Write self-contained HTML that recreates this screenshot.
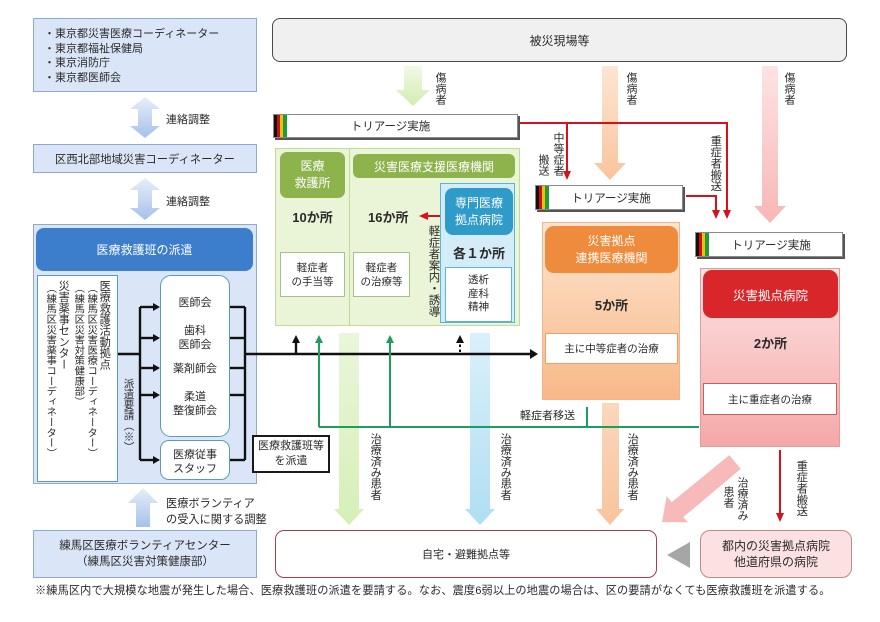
<!DOCTYPE html>
<html><head><meta charset="utf-8">
<style>
*{margin:0;padding:0;box-sizing:border-box}
html,body{width:880px;height:622px}
body{background:#fff;position:relative;overflow:hidden;font-family:"Liberation Sans","Noto Sans CJK JP",sans-serif;color:#2a2a2a}
.a{position:absolute}
.t{position:absolute;white-space:nowrap;font-size:11px;line-height:1}
.v{writing-mode:vertical-rl}
.c{display:flex;align-items:center;justify-content:center;text-align:center;flex-direction:column}
.b{font-weight:bold}
.w{color:#fff}
.tri{position:absolute;background:#fff;border:1px solid #8a8a8a;box-shadow:2px 2px 0 #555;font-size:11.5px}
.tri .s{position:absolute;left:0;top:0;bottom:0;width:13px;background:linear-gradient(to right,#111 0 3px,#c8101a 3px 6px,#f2c200 6px 9px,#1f9a3c 9px 13px)}
</style></head><body>

<!-- Left column boxes -->
<div class="a" style="left:33px;top:18px;width:224px;height:74px;background:#dae6f7;border:1px solid #8ea9d5;font-size:11px;line-height:14.7px;padding:8px 0 0 10px;white-space:nowrap">・東京都災害医療コーディネーター<br>・東京都福祉保健局<br>・東京消防庁<br>・東京都医師会</div>

<div class="a c" style="left:33px;top:144px;width:224px;height:29px;background:#dae6f7;border:1px solid #8ea9d5;font-size:11.3px">区西北部地域災害コーディネーター</div>

<div class="a" style="left:33px;top:224px;width:224px;height:260px;background:#dae6f7;border:1px solid #8ea9d5"></div>
<div class="a c w" style="left:36px;top:228px;width:217px;height:43px;background:#3c7ecb;border-radius:8px;font-size:12px">医療救護班の派遣</div>
<div class="a" style="left:37px;top:275px;width:81px;height:207px;background:#fff;border:1.5px solid #5c9db6"></div>
<div class="a" style="left:160px;top:275px;width:70px;height:162px;background:#fff;border:1.5px solid #5c9db6;border-radius:11px"></div>
<div class="a" style="left:160px;top:440px;width:70px;height:40px;background:#fff;border:1.5px solid #5c9db6;border-radius:9px"></div>

<div class="a c" style="left:252px;top:435px;width:78px;height:38px;background:#fff;border:2px solid #1a1a1a;font-size:11px;line-height:15px">医療救護班等<br>を派遣</div>

<div class="a c" style="left:33px;top:530px;width:224px;height:48px;background:#dae6f7;border:1px solid #8ea9d5;font-size:11.5px;line-height:16px">練馬区医療ボランティアセンター<br>（練馬区災害対策健康部）</div>

<!-- Top box -->
<div class="a c" style="left:272px;top:18px;width:575px;height:44px;background:#f0f0f0;border:1.5px solid #4a4a4a;border-radius:8px;font-size:12px">被災現場等</div>

<!-- Triage boxes -->
<div class="tri c" style="left:273px;top:114px;width:245px;height:24px"><div class="s"></div><span style="margin-right:10px">トリアージ実施</span></div>
<div class="tri c" style="left:535px;top:185px;width:148px;height:25px"><div class="s"></div><span style="margin-left:4px">トリアージ実施</span></div>
<div class="tri c" style="left:695px;top:232px;width:148px;height:25px"><div class="s"></div><span style="margin-left:4px">トリアージ実施</span></div>

<!-- Green big box -->
<div class="a" style="left:275px;top:148px;width:245px;height:178px;background:#eaf4d6;border:1px solid #c2dc98"></div>
<div class="a" style="left:349px;top:148px;width:1px;height:178px;background:#c2dc98"></div>
<div class="a c w" style="left:280px;top:152px;width:65px;height:46px;background:#8db34d;border-radius:7px;font-size:12px;line-height:17px">医療<br>救護所</div>
<div class="a c w" style="left:353px;top:154px;width:162px;height:24px;background:#8db34d;border-radius:6px;font-size:12px">災害医療支援医療機関</div>
<div class="t b" style="left:280px;width:65px;text-align:center;top:211px;font-size:13px">10か所</div>
<div class="t b" style="left:368px;top:211px;font-size:13px">16か所</div>
<div class="a c" style="left:280px;top:252px;width:65px;height:45px;background:#fff;border:1px solid #a7bf8b;font-size:10.5px;line-height:14px">軽症者<br>の手当等</div>
<div class="a c" style="left:353px;top:252px;width:57px;height:45px;background:#fff;border:1px solid #a7bf8b;font-size:10.5px;line-height:14px">軽症者<br>の治療等</div>
<div class="a" style="left:440px;top:183px;width:75px;height:140px;background:#d3ecf8;border:1px solid #5db4da"></div>
<div class="a c w" style="left:445px;top:188px;width:68px;height:47px;background:#2f9bc9;border-radius:8px;font-size:12px;line-height:17px">専門医療<br>拠点病院</div>
<div class="t b" style="left:445px;width:68px;text-align:center;top:247px;font-size:13px">各１か所</div>
<div class="a c" style="left:445px;top:267px;width:67px;height:55px;background:#fff;border:1px solid #5db4da;font-size:10.5px;line-height:13.5px">透析<br>産科<br>精神</div>

<!-- Orange box -->
<div class="a" style="left:542px;top:222px;width:138px;height:178px;background:linear-gradient(#fde5d0,#f8b888);border:1px solid #f2b48a"></div>
<div class="a c w" style="left:545px;top:226px;width:133px;height:47px;background:#ef8b3d;border-radius:9px;font-size:12px;line-height:17px">災害拠点<br>連携医療機関</div>
<div class="t b" style="left:545px;width:133px;text-align:center;top:299px;font-size:13px">5か所</div>
<div class="a c" style="left:545px;top:333px;width:133px;height:31px;background:#fff;border:1px solid #efa067;font-size:10.5px">主に中等症者の治療</div>

<!-- Red box -->
<div class="a" style="left:700px;top:268px;width:140px;height:179px;background:linear-gradient(#fce3e3,#f5a8a8);border:1px solid #e39b9b"></div>
<div class="a c w" style="left:703px;top:270px;width:135px;height:48px;background:#d8262a;border-radius:9px;font-size:12.5px">災害拠点病院</div>
<div class="t b" style="left:703px;width:135px;text-align:center;top:337px;font-size:13px">2か所</div>
<div class="a c" style="left:703px;top:383px;width:134px;height:32px;background:#fff;border:1px solid #c65f5f;font-size:10.5px">主に重症者の治療</div>

<!-- Bottom boxes -->
<div class="a c" style="left:275px;top:530px;width:382px;height:48px;background:#fff;border:1.5px solid #a3404a;border-radius:9px;font-size:11px">自宅・避難拠点等</div>
<div class="a c" style="left:700px;top:530px;width:152px;height:48px;background:#fbe1e1;border:1px solid #c48a8a;border-radius:10px;font-size:12px;line-height:16px">都内の災害拠点病院<br>他道府県の病院</div>

<svg class="a" style="left:0;top:0" width="880" height="622" viewBox="0 0 880 622">
<defs>
<linearGradient id="gb" x1="0" y1="0" x2="0" y2="1"><stop offset="0" stop-color="#e6eefa"/><stop offset="1" stop-color="#a6c1ea"/></linearGradient>
<linearGradient id="gg" x1="0" y1="0" x2="0" y2="1"><stop offset="0" stop-color="#f2f9e6"/><stop offset="1" stop-color="#d3ecb0"/></linearGradient>
<linearGradient id="go" x1="0" y1="0" x2="0" y2="1"><stop offset="0" stop-color="#fde6d3"/><stop offset="1" stop-color="#f9c49c"/></linearGradient>
<linearGradient id="gp" x1="0" y1="0" x2="0" y2="1"><stop offset="0" stop-color="#fde3e3"/><stop offset="1" stop-color="#f8b6b6"/></linearGradient>
<linearGradient id="gl" x1="0" y1="0" x2="0" y2="1"><stop offset="0" stop-color="#eaf6db"/><stop offset="1" stop-color="#d6efb6"/></linearGradient>
<linearGradient id="gc" x1="0" y1="0" x2="0" y2="1"><stop offset="0" stop-color="#daf0fa"/><stop offset="1" stop-color="#b0def4"/></linearGradient>
<linearGradient id="go2" x1="0" y1="0" x2="0" y2="1"><stop offset="0" stop-color="#fad7bc"/><stop offset="1" stop-color="#f8c49c"/></linearGradient>
</defs>
<!-- double arrows -->
<polygon fill="url(#gb)" points="145,97 160,109 152,109 152,126 160,126 145,138 130,126 138,126 138,109 130,109"/>
<polygon fill="url(#gb)" points="145,178 160,190 152,190 152,208 160,208 145,220 130,208 138,208 138,190 130,190"/>
<!-- volunteer up arrow -->
<polygon fill="url(#gb)" points="143,488 158,503 150,503 150,527 136,527 136,503 128,503"/>
<!-- top arrows -->
<polygon fill="url(#gg)" points="404,66 422,66 422,90 430,90 413,106 396,90 404,90"/>
<polygon fill="url(#go)" points="602,66 618,66 618,163 626,163 610,180 594,163 602,163"/>
<polygon fill="url(#gp)" points="762,66 778,66 778,206 786,206 770,223 754,206 762,206"/>
<!-- down arrows -->
<polygon fill="url(#gl)" points="339,333 359,333 359,509 364,509 349,525 334,509 339,509"/>
<polygon fill="url(#gc)" points="470,333 490,333 490,509 495,509 480,525 465,509 470,509"/>
<polygon fill="url(#go2)" points="602,403 619,403 619,509 624,509 610,525 596,509 602,509"/>
<polygon fill="#f7b9b9" points="729.3,455.1 671.7,502.3 666.6,496.2 662,522 688.2,522.4 683.1,517.3 740.7,468.9"/>
<!-- gray triangle -->
<polygon fill="#a6a6a6" points="667,555 690,542 690,568"/>

<!-- black lines -->
<g stroke="#111" stroke-width="2.4" fill="none">
<line x1="118" y1="354" x2="140" y2="354"/>
<line x1="140" y1="307" x2="140" y2="460"/>
<line x1="140" y1="307" x2="154" y2="307"/>
<line x1="140" y1="338" x2="154" y2="338"/>
<line x1="140" y1="368" x2="154" y2="368"/>
<line x1="140" y1="395" x2="154" y2="395"/>
<line x1="140" y1="460" x2="154" y2="460"/>
<line x1="230" y1="307" x2="245" y2="307"/>
<line x1="230" y1="338" x2="245" y2="338"/>
<line x1="230" y1="368" x2="245" y2="368"/>
<line x1="230" y1="395" x2="245" y2="395"/>
<line x1="230" y1="460" x2="245" y2="460"/>
<line x1="245" y1="307" x2="245" y2="460"/>
<line x1="245" y1="354" x2="531" y2="354"/>
<line x1="296" y1="354" x2="296" y2="341"/>
<line x1="460" y1="352" x2="460" y2="341" stroke-dasharray="2.5,2.5" stroke-width="2"/>
</g>
<g fill="#111">
<polygon points="153,303 160,307 153,311"/>
<polygon points="153,334 160,338 153,342"/>
<polygon points="153,364 160,368 153,372"/>
<polygon points="153,391 160,395 153,399"/>
<polygon points="153,456 160,460 153,464"/>
<polygon points="530,349 538,354 530,359"/>
<polygon points="292,343 296,335 300,343"/>
<polygon points="456,343 460,335 464,343"/>
</g>
<!-- green lines -->
<g stroke="#1e9e5e" stroke-width="2" fill="none">
<line x1="319" y1="427" x2="699" y2="427"/>
<line x1="319" y1="427" x2="319" y2="341"/>
<line x1="390" y1="427" x2="390" y2="341"/>
<line x1="587" y1="407" x2="587" y2="427"/>
</g>
<g fill="#1e9e5e">
<polygon points="315,343 319,335 323,343"/>
<polygon points="386,343 390,335 394,343"/>
</g>
<!-- red lines -->
<g stroke="#d8101c" stroke-width="2" fill="none">
<polyline points="520,123 727,123 727,211"/>
<line x1="567" y1="123" x2="567" y2="172"/>
<polyline points="686,196 716,196 716,211"/>
<line x1="440" y1="216" x2="426" y2="216"/>
<line x1="780" y1="450" x2="780" y2="514"/>
</g>
<g fill="#d8101c">
<polygon points="723,210 731,210 727,219"/>
<polygon points="563,171 571,171 567,180"/>
<polygon points="712,210 720,210 716,219"/>
<polygon points="428,212 428,220 419,216"/>
<polygon points="776,513 784,513 780,522"/>
</g>
</svg>

<!-- labels -->
<div class="t" style="left:166px;top:115px">連絡調整</div>
<div class="t" style="left:166px;top:197px">連絡調整</div>
<div class="t" style="left:166px;top:496px;line-height:16px;font-size:11.2px">医療ボランティア<br>の受入に関する調整</div>

<div class="t v" style="left:98px;top:280px;font-size:11.2px">医療救護活動拠点</div>
<div class="t v" style="left:85px;top:283px;font-size:10.3px">（練馬区災害医療コーディネーター）</div>
<div class="t v" style="left:72px;top:283px;font-size:10.3px">（練馬区災害対策健康部）</div>
<div class="t v" style="left:57px;top:280px;font-size:11.2px">災害薬事センター</div>
<div class="t v" style="left:44px;top:283px;font-size:10.3px">（練馬区災害薬事コーディネーター）</div>
<div class="t v" style="left:123px;top:378px;font-size:10.6px">派遣要請（※）</div>

<div class="t" style="left:160px;width:70px;text-align:center;top:298px">医師会</div>
<div class="t" style="left:160px;width:70px;text-align:center;top:325px;line-height:13.5px">歯科<br>医師会</div>
<div class="t" style="left:160px;width:70px;text-align:center;top:364px">薬剤師会</div>
<div class="t" style="left:160px;width:70px;text-align:center;top:391px;line-height:13.5px">柔道<br>整復師会</div>
<div class="t" style="left:160px;width:70px;text-align:center;top:448px;line-height:14px">医療従事<br>スタッフ</div>

<div class="t v" style="left:434px;top:72px">傷病者</div>
<div class="t v" style="left:625px;top:72px">傷病者</div>
<div class="t v" style="left:783px;top:72px">傷病者</div>
<div class="t v" style="left:552px;top:132px">中等症者</div>
<div class="t v" style="left:537px;top:154px">搬送</div>
<div class="t v" style="left:709px;top:135px;font-size:11.3px">重症者搬送</div>
<div class="t v" style="left:427px;top:225px;font-size:11.5px">軽症者案内・誘導</div>

<div class="t" style="left:520px;top:411px">軽症者移送</div>
<div class="t v" style="left:369px;top:433px;font-size:11.2px">治療済み患者</div>
<div class="t v" style="left:499px;top:433px;font-size:11.2px">治療済み患者</div>
<div class="t v" style="left:626px;top:433px;font-size:11.2px">治療済み患者</div>
<div class="t v" style="left:736px;top:477px;font-size:11px">治療済み</div>
<div class="t v" style="left:722px;top:486px;font-size:11px">患者</div>
<div class="t v" style="left:795px;top:460px;font-size:11.3px">重症者搬送</div>

<div class="t" style="left:35px;top:586px;font-size:11.2px;letter-spacing:0.1px">※練馬区内で大規模な地震が発生した場合、医療救護班の派遣を要請する。なお、震度6弱以上の地震の場合は、区の要請がなくても医療救護班を派遣する。</div>

</body></html>
